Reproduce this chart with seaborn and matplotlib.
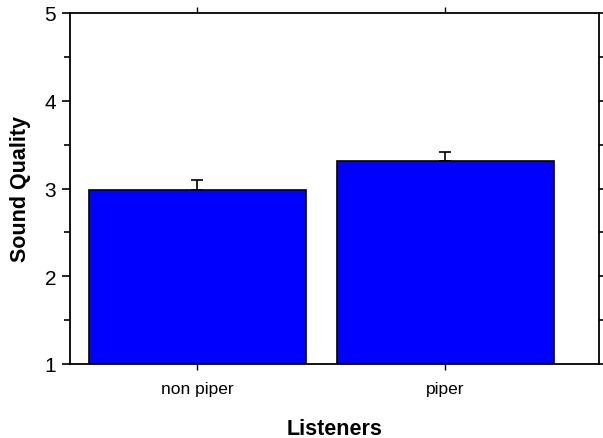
import matplotlib
matplotlib.use("Agg")
import matplotlib.pyplot as plt
import seaborn as sns
import pandas as pd
import numpy as np
from matplotlib.ticker import MultipleLocator

categories = ["non piper", "piper"]
means = [2.98, 3.31]
errors = [0.12, 0.11]

sns.set_style("ticks")
plt.rcParams['font.family'] = ['Liberation Sans', 'DejaVu Sans']
plt.rcParams['text.color'] = 'black'
plt.rcParams['axes.labelcolor'] = 'black'
plt.rcParams['xtick.color'] = 'black'
plt.rcParams['ytick.color'] = 'black'

df = pd.DataFrame({"Listeners": categories, "Sound Quality": means})

fig = plt.figure(figsize=(6.03, 4.39), dpi=100)
ax = fig.add_axes([70/603, 1-365/439, 529/603, 351/439])

sns.barplot(data=df, x="Listeners", y="Sound Quality", color="#0000ff",
            saturation=1, edgecolor="black", linewidth=1.2, width=0.875,
            errorbar=None, ax=ax, zorder=2)
ax.errorbar(np.arange(len(categories)), means, yerr=[[0]*len(errors), errors],
            fmt="none", ecolor="black", elinewidth=1.2, capsize=4, capthick=1.2, zorder=1)

ax.set_ylim(1, 5)
ax.set_xlim(-0.514, 1.62)
ax.yaxis.set_major_locator(MultipleLocator(1))
ax.yaxis.set_minor_locator(MultipleLocator(0.5))
ax.tick_params(axis="y", which="both", left=True, right=True, direction="out",
               labelsize=15, width=1.2, labelcolor="black", pad=4)
ax.tick_params(axis="y", which="major", length=6)
ax.tick_params(axis="y", which="minor", length=4)
ax.tick_params(axis="x", bottom=True, top=True, direction="out", length=4,
               labelsize=12.5, width=1, pad=8, labelcolor="black")
for s in ax.spines.values():
    s.set_linewidth(1.3)
    s.set_color("black")

ax.set_xlabel("Listeners", fontsize=15.5, fontweight="bold", labelpad=16, color="black")
ax.set_ylabel("Sound Quality", fontsize=15.5, fontweight="bold", labelpad=10, color="black")

fig.savefig("out.png", dpi=100)
